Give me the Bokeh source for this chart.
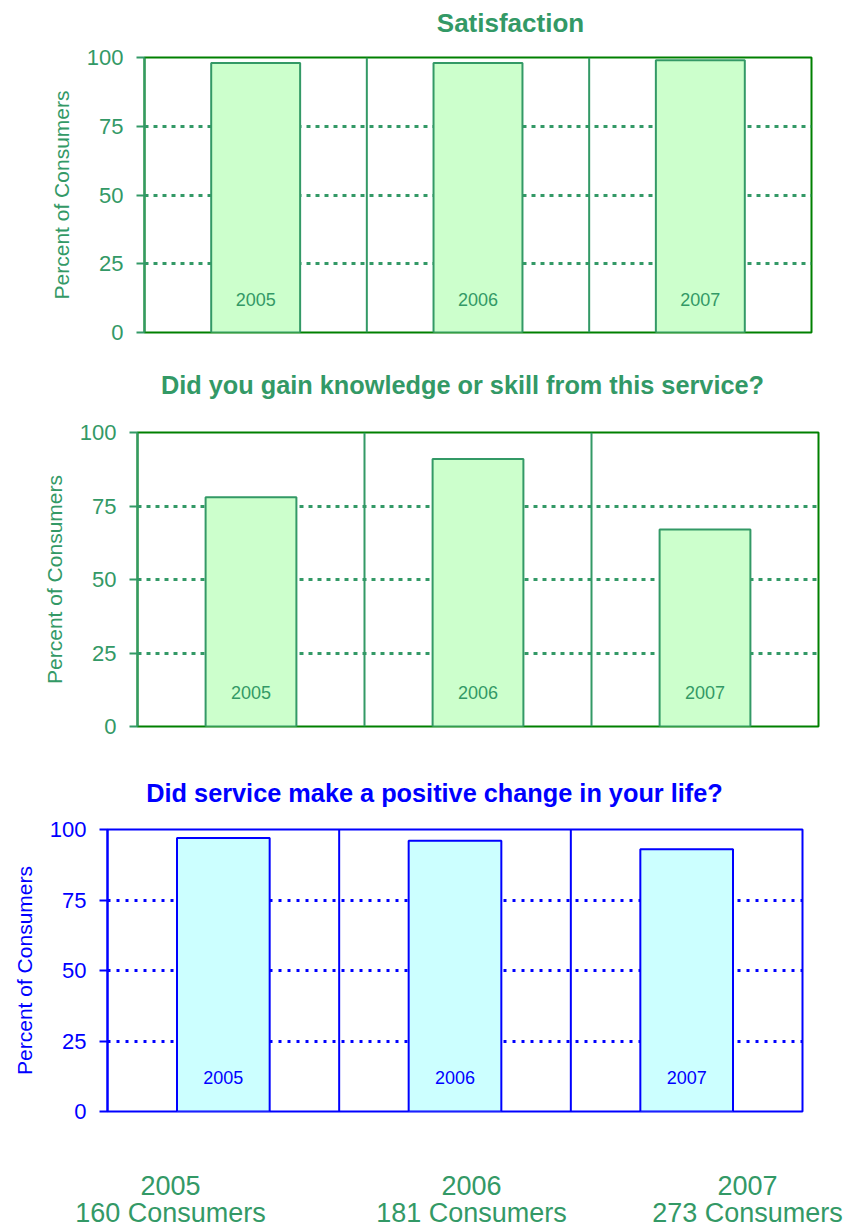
from bokeh.plotting import figure
from bokeh.layouts import column
from bokeh.models import Range1d, FactorRange, FixedTicker, Span
from bokeh.core.properties import value
from bokeh.embed import file_html
from bokeh.resources import INLINE

FONT = "Liberation Sans"

# ---- data ----
years = ["2005", "2006", "2007"]
satisfaction = [98, 98, 99]
knowledge = [78, 91, 67]
positive_change = [97, 96, 93]
consumers = [160, 181, 273]
y_ticks = [0, 25, 50, 75, 100]
grid_ticks = [25, 50, 75, 100]
titles = [
    "Satisfaction",
    "Did you gain knowledge or skill from this service?",
    "Did service make a positive change in your life?",
]
axis_label = "Percent of Consumers"

GREEN_TXT = "#339966"
GREEN_DARK = "#008000"
BLUE = "#0000ff"
W = 844


def text_strip(height):
    """A figure whose frame is the whole canvas, used for free-standing text."""
    f = figure(x_range=Range1d(0, W), y_range=Range1d(0, height), width=W,
               height=height, output_backend="svg", toolbar_location=None,
               min_border=0, frame_align=False)
    f.outline_line_color = None
    f.axis.visible = False
    f.grid.visible = False
    return f


def title_strip(text, height, cx, cy, color, size):
    f = text_strip(height)
    f.text(x=[cx], y=[cy], text=[text], text_align="center",
           text_baseline="middle", text_font=value(FONT),
           text_font_size=size, text_font_style="bold", text_color=color)
    return f


def make_chart(vals, text_color, border_color, axis_color, bar_fill,
               bar_line, grid_dash, frame_left, frame_width, border_top,
               border_bottom, height, label_y):
    p = figure(x_range=FactorRange(*years), y_range=Range1d(0, 100),
               width=W, height=height, output_backend="svg",
               toolbar_location=None, frame_align=False,
               min_border_left=frame_left,
               min_border_right=W - frame_left - frame_width,
               min_border_top=border_top, min_border_bottom=border_bottom)
    p.background_fill_color = "white"
    p.border_fill_color = "white"
    p.outline_line_color = border_color
    p.outline_line_width = 2

    p.xaxis.visible = False
    p.xgrid.visible = False

    ax = p.yaxis[0]
    ax.ticker = FixedTicker(ticks=y_ticks)
    ax.axis_label = axis_label
    ax.axis_label_text_font = FONT
    ax.axis_label_text_font_size = "21px"
    ax.axis_label_text_font_style = "normal"
    ax.axis_label_text_color = text_color
    ax.axis_label_standoff = 11
    ax.major_label_text_font = FONT
    ax.major_label_text_font_size = "22px"
    ax.major_label_text_color = text_color
    ax.major_label_standoff = 13
    ax.major_tick_out = 8
    ax.major_tick_in = 0
    ax.minor_tick_out = 0
    ax.minor_tick_in = 0
    ax.major_tick_line_color = axis_color
    ax.major_tick_line_width = 2
    ax.axis_line_color = axis_color
    ax.axis_line_width = 2

    g = p.ygrid[0]
    g.ticker = FixedTicker(ticks=grid_ticks)
    g.grid_line_color = axis_color
    g.grid_line_dash = grid_dash
    g.grid_line_width = 3

    for b in range(1, len(years)):
        p.add_layout(Span(location=b, dimension="height", line_color=axis_color,
                          line_width=2, level="underlay"))

    p.vbar(x=years, top=vals, bottom=0, width=0.4, fill_color=bar_fill,
           line_color=bar_line, line_width=2)
    p.text(x=years, y=[label_y] * len(years), text=years, text_align="center",
           text_baseline="middle", text_font=value(FONT),
           text_font_size="18px", text_color=text_color)
    return p


t1 = title_strip(titles[0], 45, 510, 22.5, GREEN_TXT, "26px")
p1 = make_chart(satisfaction, GREEN_TXT, GREEN_DARK, GREEN_TXT,
                "#ccffcc", GREEN_TXT, "4 5", 144, 667, 12, 21, 308, 12)
t2 = title_strip(titles[1], 57, 462, 26, GREEN_TXT, "25.3px")
p2 = make_chart(knowledge, GREEN_TXT, GREEN_DARK, GREEN_TXT,
                "#ccffcc", GREEN_TXT, "4 5", 137, 681, 22, 27, 343, 11.5)
t3 = title_strip(titles[2], 62, 434, 23, BLUE, "25.3px")
p3 = make_chart(positive_change, BLUE, BLUE, BLUE,
                "#ccffff", BLUE, "3 6", 107, 695, 14, 17, 313, 12)

# footer
footer_x = [170, 471, 747]
f = text_strip(100)
f.text(x=footer_x, y=[43] * 3, text=years, text_align="center",
       text_baseline="middle", text_font=value(FONT), text_font_size="27px",
       text_color=GREEN_TXT)
f.text(x=footer_x, y=[16] * 3, text=[f"{c} Consumers" for c in consumers],
       text_align="center", text_baseline="middle", text_font=value(FONT),
       text_font_size="27px", text_color=GREEN_TXT)

layout = column(t1, p1, t2, p2, t3, p3, f, spacing=0)
open("out.html", "w").write(file_html(layout, INLINE))
